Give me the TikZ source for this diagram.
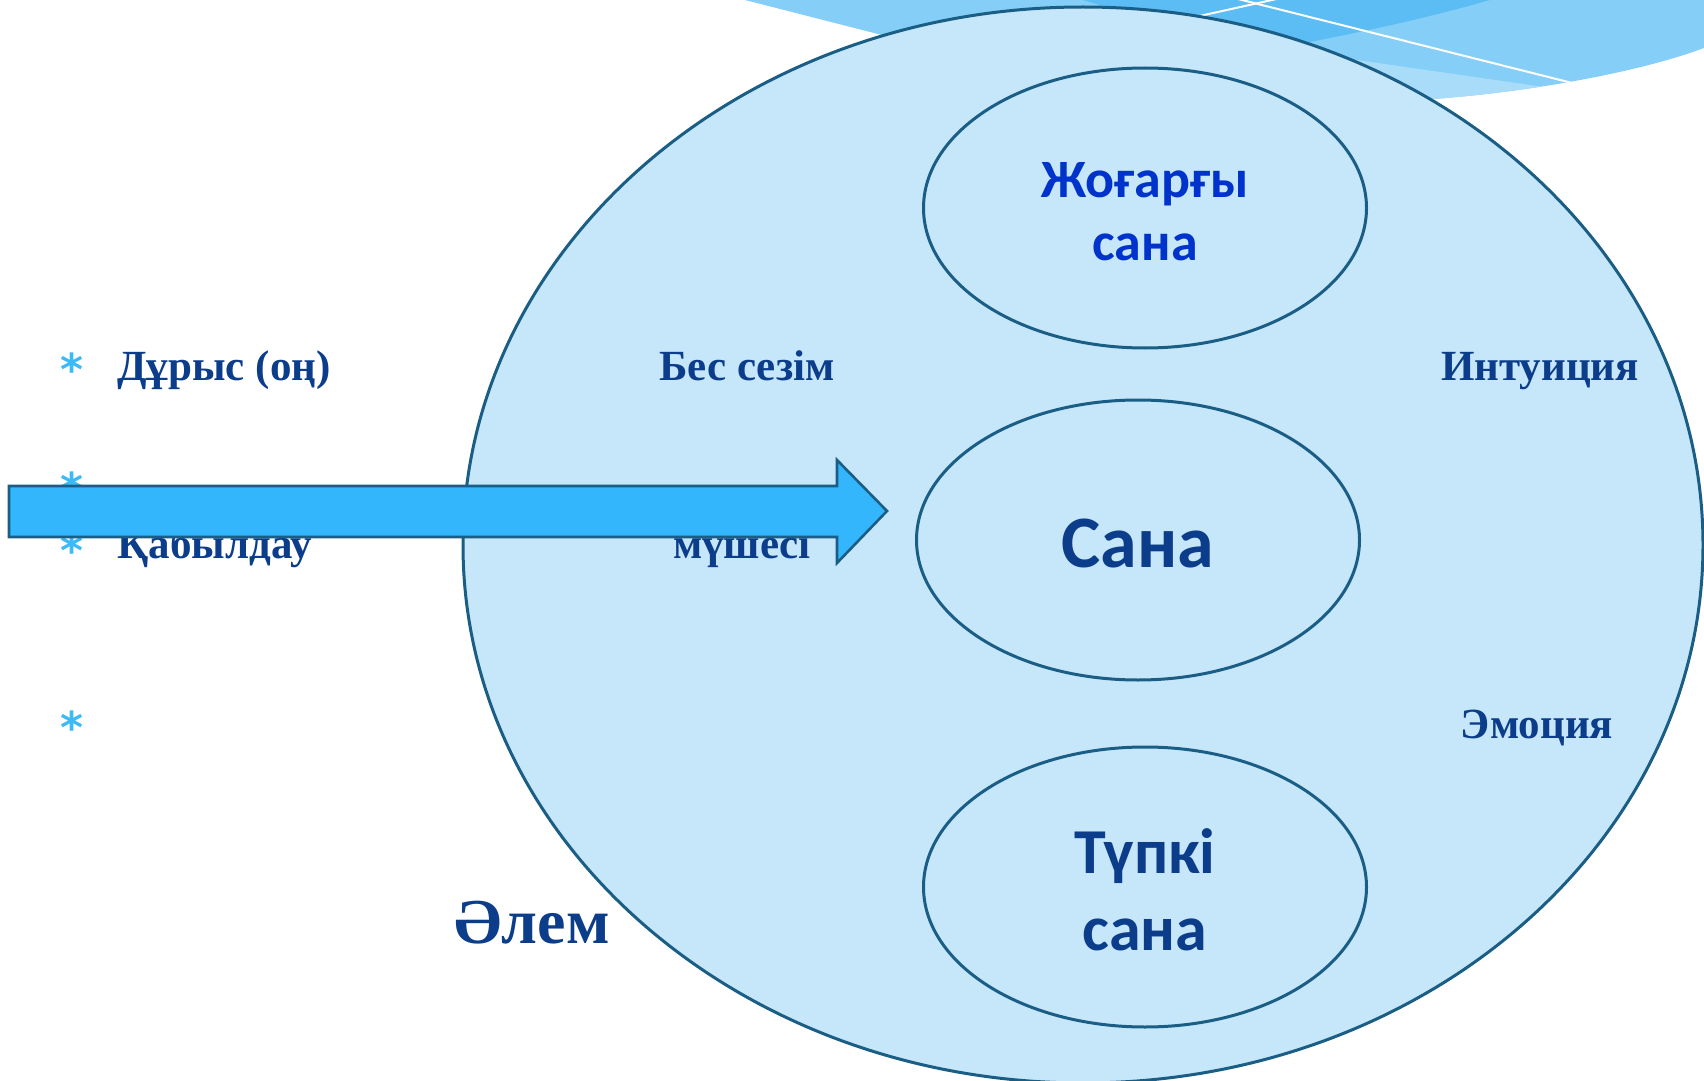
\documentclass[tikz,border=0pt]{standalone}
\usepackage{fontspec}
\setmainfont{Liberation Serif}
\newfontfamily\labelsans{Carlito}
\newfontfamily\starfont{DejaVu Sans}
\usetikzlibrary{shapes.geometric}

\definecolor{worldfill}{HTML}{C6E6FA}
\definecolor{edgeblue}{HTML}{1B5E85}
\definecolor{inkblue}{HTML}{0B3D8A}
\definecolor{brightink}{HTML}{0033CC}
\definecolor{arrowblue}{HTML}{33B6FB}
\definecolor{starblue}{HTML}{3CBAF7}
\definecolor{waveA}{HTML}{85CEF7}
\definecolor{waveB}{HTML}{5BBDF4}
\definecolor{waveC}{HTML}{A8DCF9}

\tikzset{
  ring/.style={ellipse, draw=edgeblue, line width=1.5pt, fill=worldfill, inner sep=0pt},
  ringtext/.style={align=center, inner sep=0pt, text=inkblue},
  sidetext/.style={font=\bfseries\fontsize{21.5pt}{25pt}\selectfont, text=inkblue, inner sep=0pt},
  starmark/.style={font=\starfont\bfseries\fontsize{22pt}{26pt}\selectfont, text=starblue, inner sep=0pt, anchor=base},
  bigarrow/.style={fill=arrowblue, draw=edgeblue, line width=1.3pt, line join=miter}
}

\begin{document}
\begin{tikzpicture}[x=0.5pt, y=-0.5pt]
\useasboundingbox (0,0) rectangle (1704,1081);

% wave ornament in the upper right corner
\begin{scope}
  \clip (745,0) -- (1704,0) -- (1704,48)
        .. controls (1640,72) and (1530,92) .. (1433,99)
        -- (1083,150) -- (960,55) -- cycle;
  \fill[waveA] (700,0) rectangle (1704,200);
  \fill[waveB] (1083,0) -- (1490,0) .. controls (1420,20) and (1360,32) .. (1310,42)
        -- (1200,60) -- (1150,20) -- cycle;
  \fill[waveC] (1357,60) -- (1620,98) -- (1620,200) -- (1300,200) -- cycle;
  \draw[white, line width=1pt] (1150,27) -- (1290,-4);
  \draw[white, line width=1pt] (1230,-3) -- (1620,95);
\end{scope}

% outer world ellipse and the three levels of consciousness
\node[ring, minimum width=620pt, minimum height=538pt] (world) at (1083,545) {};

\node[ring, minimum width=221.5pt, minimum height=140pt] (upper) at (1145,208) {};
\node[ring, minimum width=221.5pt, minimum height=140pt] (mind) at (1138,540) {};
\node[ring, minimum width=221.5pt, minimum height=140pt] (deep) at (1145,887) {};

\node[ringtext, text=brightink, font=\labelsans\bfseries\fontsize{27pt}{31.5pt}\selectfont]
  (uppername) at ([yshift=-1.6pt]upper.center) {Жоғарғы\\сана};
\node[ringtext, font=\labelsans\bfseries\fontsize{37pt}{44pt}\selectfont]
  (mindname) at ([yshift=-1.6pt]mind.center) {Сана};
\node[ringtext, font=\labelsans\bfseries\fontsize{32pt}{38.5pt}\selectfont]
  (deepname) at ([yshift=-1.2pt]deep.center) {Түпкі\\сана};

% side captions
\node[sidetext, anchor=base west] (right) at (117,380) {Дұрыс (оң)};
\node[sidetext, anchor=base west] (perceive) at (117,558) {Қабылдау};
\node[sidetext, anchor=base] (senses) at (747,380) {Бес сезім};
\node[sidetext, anchor=base] (organ) at (742,558) {мүшесі};
\node[sidetext, anchor=base] (intuition) at (1540,380) {Интуиция};
\node[sidetext, anchor=base] (emotion) at (1537,738) {Эмоция};
\node[sidetext, anchor=base, font=\bfseries\fontsize{32pt}{38pt}\selectfont] (worldname) at (532,943) {Әлем};

% list markers
\node[starmark] (s1) at (72,385) {*};
\node[starmark] (s2) at (72,504) {*};
\node[starmark] (s3) at (72,566) {*};
\node[starmark] (s4) at (72,743) {*};

% block arrow pointing at the mind
\coordinate (tip) at (887,511);
\draw[bigarrow] (9,486) -- (837,486) -- (837,460) -- (tip)
  -- (837,563) -- (837,537) -- (9,537) -- cycle;
\end{tikzpicture}
\end{document}
